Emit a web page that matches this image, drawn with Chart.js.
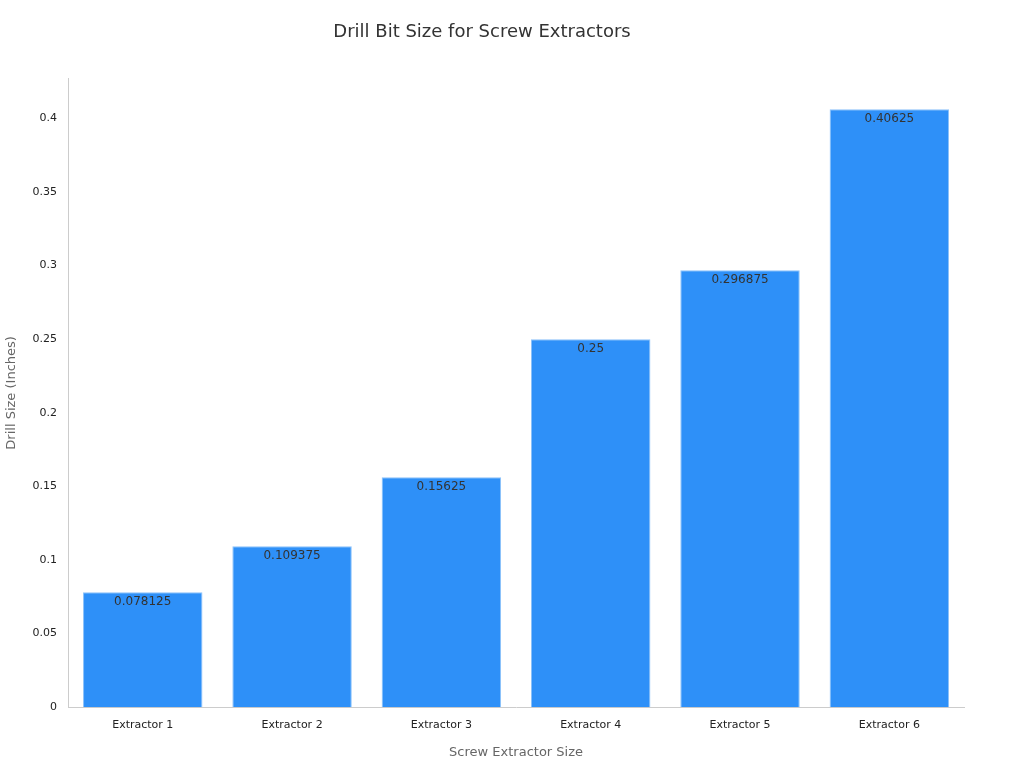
<!DOCTYPE html>
<html><head><meta charset="utf-8">
<script src="https://cdn.jsdelivr.net/npm/chart.js@4"></script>
<style>html,body{margin:0;background:#fff}#w{width:1024px;height:768px}</style>
</head><body><div id="w"><canvas id="c"></canvas></div>
<script>
const categories = ["Extractor 1","Extractor 2","Extractor 3","Extractor 4","Extractor 5","Extractor 6"];
const drillSizes = [0.078125,0.109375,0.15625,0.25,0.296875,0.40625];
const labelPlugin = {
  id:'lbl',
  afterDatasetsDraw(chart){
    const ctx=chart.ctx; const meta=chart.getDatasetMeta(0);
    ctx.save(); ctx.fillStyle='#333'; ctx.font='12px "DejaVu Sans"'; ctx.textAlign='center'; ctx.textBaseline='top';
    meta.data.forEach((b,i)=>ctx.fillText(String(drillSizes[i]), b.x, b.y+4));
    ctx.restore();
  }
};
new Chart(document.getElementById('c'),{
  type:'bar',
  data:{labels:categories,datasets:[{data:drillSizes,backgroundColor:'#2E90F8',borderColor:'#8CC2FA',borderWidth:1,categoryPercentage:0.8,barPercentage:1}]},
  options:{
    responsive:true,maintainAspectRatio:false,animation:false,
    layout:{padding:{left:0,right:60,top:0,bottom:4}},
    plugins:{legend:{display:false},tooltip:{enabled:false},
      title:{display:true,text:'Drill Bit Size for Screw Extractors',color:'#333',font:{family:'DejaVu Sans',size:18,weight:'normal'},padding:{top:22,bottom:35}}},
    scales:{
      x:{grid:{display:false,drawTicks:true},border:{color:'#ccc'},
        ticks:{color:'#222',font:{family:'DejaVu Sans',size:11}},
        title:{display:true,text:'Screw Extractor Size',color:'#666',font:{family:'DejaVu Sans',size:13},padding:{top:10}}},
      y:{min:0,max:0.427,grid:{display:false,drawTicks:true},border:{color:'#ccc'},
        afterBuildTicks(s){s.ticks=[0,0.05,0.1,0.15,0.2,0.25,0.3,0.35,0.4].map(v=>({value:v}));},
        ticks:{color:'#222',font:{family:'DejaVu Sans',size:11},callback:v=>String(+v.toFixed(2))},
        title:{display:true,text:'Drill Size (Inches)',color:'#666',font:{family:'DejaVu Sans',size:13},padding:{bottom:10}}}
    }
  },
  plugins:[labelPlugin]
});
</script></body></html>
